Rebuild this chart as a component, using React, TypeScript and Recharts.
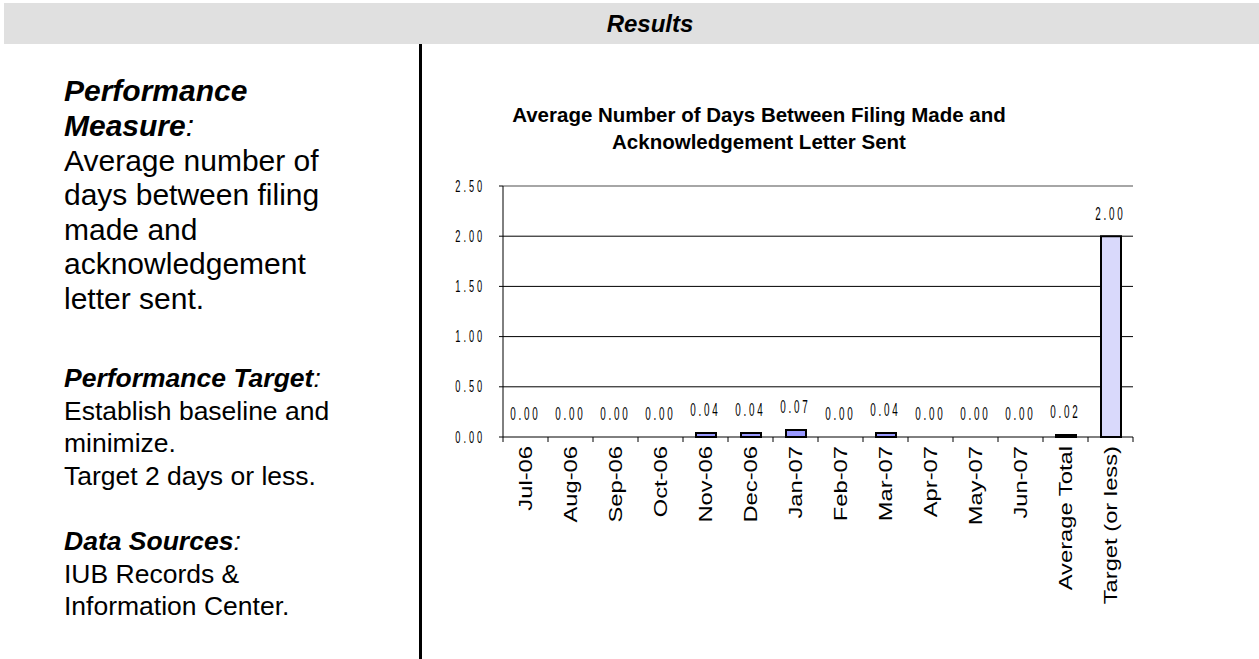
import { ComposedChart, Bar, Line, XAxis, YAxis, CartesianGrid, Cell, LabelList, ReferenceLine } from 'recharts';

const months = ['Jul-06', 'Aug-06', 'Sep-06', 'Oct-06', 'Nov-06', 'Dec-06', 'Jan-07', 'Feb-07', 'Mar-07', 'Apr-07', 'May-07', 'Jun-07', 'Average Total', 'Target (or less)'];
const avgDays = [0, 0, 0, 0, 0.04, 0.04, 0.07, 0, 0.04, 0, 0, 0, 0.02, 2.0];
const yTicks = [0, 0.5, 1, 1.5, 2, 2.5];

const FONT = '"Liberation Sans", Arial, sans-serif';
const BAND = 45; // plot width / categories

const data = months.map((m, i) => ({ name: m, days: avgDays[i] }));

// left column, one entry per printed line
const measureLines = ['Average number of', 'days between filing', 'made and', 'acknowledgement', 'letter sent.'];
const targetLines = ['Establish baseline and', 'minimize.', 'Target 2 days or less.'];
const sourceLines = ['IUB Records &', 'Information Center.'];

const YTick = (props: any) => {
  const { x, y, payload } = props;
  return (
    <text
      transform={`translate(${x},${y}) scale(0.58,1)`}
      textAnchor="end"
      dy="0.35em"
      fontSize={16}
      letterSpacing={5}
      fontFamily={FONT}
      fill="#000"
    >
      {payload.value.toFixed(2)}
    </text>
  );
};

const XTick = (props: any) => {
  const { x, y, payload, index } = props;
  const last = index === months.length - 1;
  return (
    <g>
      <line x1={x - BAND / 2} y1={y} x2={x - BAND / 2} y2={y + 5} stroke="#000" />
      {last && <line x1={x + BAND / 2} y1={y} x2={x + BAND / 2} y2={y + 5} stroke="#000" />}
      <text
        transform={`translate(${x},${y + 9}) rotate(-90) scale(1.32,1)`}
        textAnchor="end"
        dy="0.35em"
        fontSize={18}
        fontFamily={FONT}
        fill="#000"
      >
        {payload.value}
      </text>
    </g>
  );
};

const ValueLabel = (props: any) => {
  const { x, y, value } = props;
  return (
    <text
      transform={`translate(${x},${y - 23}) scale(0.55,1)`}
      textAnchor="middle"
      dy="0.35em"
      fontSize={18}
      letterSpacing={5}
      fontFamily={FONT}
      fill="#000"
    >
      {Number(value).toFixed(2)}
    </text>
  );
};

const Line1 = ({ y, size, children }: { y: number; size: number; children: any }) => (
  <div
    style={{
      position: 'absolute', left: 64, top: y - 20, height: 40, lineHeight: '40px',
      fontFamily: FONT, fontSize: size, color: '#000', whiteSpace: 'nowrap',
    }}
  >
    {children}
  </div>
);

const Head = ({ label }: { label: string }) => (
  <span><b><i>{label}</i></b><i>:</i></span>
);

export default function App() {
  return (
    <div style={{ position: 'relative', width: 1259, height: 659, overflow: 'hidden', background: '#fff' }}>
      <style>{'body{margin:0}'}</style>
      <div style={{ position: 'absolute', left: 4, top: 3, width: 1255, height: 41, background: '#e0e0e0' }} />
      <div
        style={{
          position: 'absolute', left: 550, top: 3, width: 200, height: 41, lineHeight: '41px', textAlign: 'center',
          fontFamily: FONT, fontWeight: 'bold', fontStyle: 'italic', fontSize: 24,
        }}
      >
        Results
      </div>
      <div style={{ position: 'absolute', left: 419, top: 44, width: 3, height: 615, background: '#000' }} />

      <Line1 y={91} size={30}><b><i>Performance</i></b></Line1>
      <Line1 y={126} size={30}><Head label="Measure" /></Line1>
      {measureLines.map((t, i) => (
        <Line1 key={t} y={161 + i * 34.4} size={30}>{t}</Line1>
      ))}
      <Line1 y={378} size={26.5}><Head label="Performance Target" /></Line1>
      {targetLines.map((t, i) => (
        <Line1 key={t} y={410.6 + i * 32.6} size={26.5}>{t}</Line1>
      ))}
      <Line1 y={541} size={26.5}><Head label="Data Sources" /></Line1>
      {sourceLines.map((t, i) => (
        <Line1 key={t} y={573.6 + i * 32.6} size={26.5}>{t}</Line1>
      ))}

      <div
        style={{
          position: 'absolute', left: 409, top: 101, width: 700, textAlign: 'center',
          fontFamily: FONT, fontWeight: 'bold', fontSize: 20.5, lineHeight: '27px',
        }}
      >
        Average Number of Days Between Filing Made and
        <br />
        Acknowledgement Letter Sent
      </div>
      <div style={{ position: 'absolute', left: 430, top: 150 }}>
        <ComposedChart width={720} height={470} data={data} margin={{ top: 36, right: 17, bottom: 0, left: 0 }} barSize={20}>
          <CartesianGrid vertical={false} stroke="#000" horizontalValues={[0.5, 1, 1.5, 2]} />
          <ReferenceLine y={2.5} stroke="#888" strokeWidth={1.5} />
          <XAxis
            dataKey="name"
            interval={0}
            height={183}
            tickSize={0}
            tickMargin={0}
            tick={<XTick />}
            stroke="#000"
          />
          <YAxis
            domain={[0, 2.5]}
            ticks={yTicks}
            width={73}
            tickSize={4}
            tickMargin={14}
            tick={<YTick />}
            stroke="#000"
          />
          <YAxis yAxisId="r" orientation="right" width={0} tick={false} tickLine={false} stroke="#888" strokeWidth={1.5} domain={[0, 2.5]} />
          <Bar dataKey="days" stroke="#000" strokeWidth={2} isAnimationActive={false}>
            {data.map((d, i) => (
              <Cell key={d.name} fill={i === months.length - 1 ? '#d9d9fb' : '#9999ff'} />
            ))}
          </Bar>
          <Line dataKey="days" stroke="none" dot={false} activeDot={false} isAnimationActive={false} legendType="none">
            <LabelList dataKey="days" content={<ValueLabel />} />
          </Line>
        </ComposedChart>
      </div>
    </div>
  );
}
